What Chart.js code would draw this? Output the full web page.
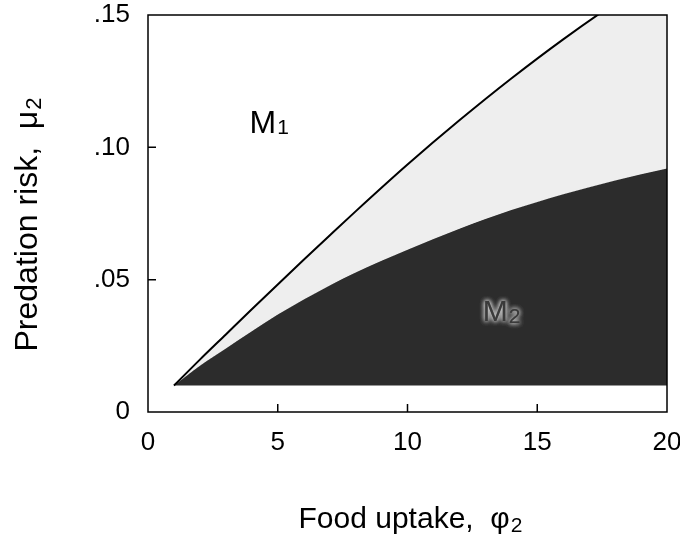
<!DOCTYPE html>
<html>
<head>
<meta charset="utf-8">
<script src="https://cdn.jsdelivr.net/npm/chart.js@4.4.1/dist/chart.umd.min.js"></script>
<style>
  html, body { margin: 0; padding: 0; background: #fff; }
  #wrap { width: 680px; height: 539px; }
</style>
</head>
<body>
<div id="wrap"><canvas id="regime-chart"></canvas></div>
<script>
const foodUptake = [1, 2, 3, 4, 5, 6, 7, 8, 10, 12, 14, 16, 18, 20];
// upper boundary M1 / mixed (black line), runs off the top past ~17.5
const upperBoundary = [0.010, 0.0198, 0.0293, 0.0388, 0.0482, 0.0575, 0.0667, 0.0758, 0.0935, 0.1102, 0.126, 0.1408, 0.1545, 0.167];
// lower boundary of the dark M2 region
const lowerBoundary = [0.010, 0.0175, 0.024, 0.0305, 0.0368, 0.0425, 0.0478, 0.0527, 0.0613, 0.0692, 0.0763, 0.0823, 0.0875, 0.092];
const floorRisk = 0.01;

const xTicks = [0, 5, 10, 15, 20];
const yTicks = [0, 0.05, 0.10, 0.15];
const yTickLabels = ['0', '.05', '.10', '.15'];

const FONT = '"Liberation Sans", Arial, Helvetica, sans-serif';

function toPoints(ys) {
  return foodUptake.map((x, i) => ({ x: x, y: ys[i] }));
}

// text with a subscript, drawn at baseline (x, y), centred
function subText(ctx, main, sub, x, y, size, subSize, drop) {
  ctx.font = size + 'px ' + FONT;
  const w1 = ctx.measureText(main).width;
  ctx.font = subSize + 'px ' + FONT;
  const w2 = ctx.measureText(sub).width;
  const start = x - (w1 + w2) / 2;
  ctx.textAlign = 'left';
  ctx.textBaseline = 'alphabetic';
  ctx.font = size + 'px ' + FONT;
  ctx.fillText(main, start, y);
  ctx.font = subSize + 'px ' + FONT;
  ctx.fillText(sub, start + w1 + 1, y + drop);
}

// frame round the plot and inward tick marks
const framePlugin = {
  id: 'frame',
  afterDatasetsDraw(chart) {
    const { ctx, chartArea, scales } = chart;
    const { left, top, right, bottom } = chartArea;
    ctx.save();
    ctx.strokeStyle = '#000';
    ctx.lineWidth = 1.5;
    ctx.strokeRect(left, top, right - left, bottom - top);
    ctx.beginPath();
    xTicks.slice(1, -1).forEach(v => {
      const px = scales.x.getPixelForValue(v);
      ctx.moveTo(px, bottom);
      ctx.lineTo(px, bottom - 8);
    });
    yTicks.slice(1, -1).forEach(v => {
      const py = scales.y.getPixelForValue(v);
      ctx.moveTo(left, py);
      ctx.lineTo(left + 8, py);
    });
    ctx.stroke();
    ctx.restore();
  }
};

// region labels and axis titles (need subscripts)
const labelPlugin = {
  id: 'labels',
  afterDraw(chart) {
    const { ctx, scales } = chart;
    ctx.save();
    ctx.fillStyle = '#000';
    subText(ctx, 'M', '1', scales.x.getPixelForValue(4.65), scales.y.getPixelForValue(0.1055), 32, 21, 1);

    // M2 sits in the dark region: soft light glow round dark letters
    const mx = scales.x.getPixelForValue(12.9), my = scales.y.getPixelForValue(0.0345);
    ctx.textAlign = 'left';
    ctx.textBaseline = 'alphabetic';
    ctx.font = '30px ' + FONT;
    const w1 = ctx.measureText('M').width;
    ctx.shadowColor = '#c8c8c8';
    ctx.shadowBlur = 5;
    ctx.fillStyle = '#3a3a3a';
    for (let k = 0; k < 3; k++) {
      ctx.font = '30px ' + FONT;
      ctx.fillText('M', mx, my);
      ctx.font = '21px ' + FONT;
      ctx.fillText('2', mx + w1 + 1, my + 2);
    }
    ctx.shadowBlur = 0;
    ctx.shadowColor = 'transparent';

    ctx.fillStyle = '#000';
    subText(ctx, 'Food uptake,  \u03c6', '2', 410, 528, 30, 21, 4);

    ctx.translate(37, 225);
    ctx.rotate(-Math.PI / 2);
    subText(ctx, 'Predation risk,  \u03bc', '2', 0, 0, 32, 22, 4);
    ctx.restore();
  }
};

const regimeChart = document.getElementById('regime-chart');
new Chart(regimeChart, {
  type: 'line',
  data: {
    datasets: [
      {
        label: 'M1 boundary',
        data: toPoints(upperBoundary),
        borderColor: '#000',
        borderWidth: 2,
        pointRadius: 0,
        cubicInterpolationMode: 'monotone',
        fill: 1,
        backgroundColor: '#eeeeee'
      },
      {
        label: 'M2 boundary',
        data: toPoints(lowerBoundary),
        borderColor: '#2c2c2c',
        borderWidth: 1,
        pointRadius: 0,
        cubicInterpolationMode: 'monotone',
        fill: { value: floorRisk },
        backgroundColor: '#2c2c2c'
      }
    ]
  },
  options: {
    responsive: true,
    maintainAspectRatio: false,
    animation: false,
    layout: { padding: { top: 15, right: 13, left: 0, bottom: 0 } },
    plugins: {
      legend: { display: false },
      tooltip: { enabled: false }
    },
    scales: {
      x: {
        type: 'linear',
        min: 0,
        max: 20,
        afterBuildTicks: s => { s.ticks = xTicks.map(v => ({ value: v })); },
        afterFit: s => { s.height = 127; s.paddingLeft = 0; s.paddingRight = 0; },
        grid: { display: false, drawTicks: false },
        border: { display: false },
        ticks: {
          color: '#000',
          padding: 15,
          maxRotation: 0,
          font: { family: FONT, size: 26 }
        }
      },
      y: {
        type: 'linear',
        min: 0,
        max: 0.15,
        afterBuildTicks: s => { s.ticks = yTicks.map(v => ({ value: v })); },
        afterFit: s => { s.width = 148; s.paddingTop = 0; s.paddingBottom = 0; },
        grid: { display: false, drawTicks: false },
        border: { display: false },
        ticks: {
          color: '#000',
          padding: 18,
          font: { family: FONT, size: 26 },
          callback: (v, i) => yTickLabels[i]
        }
      }
    }
  },
  plugins: [framePlugin, labelPlugin]
});
</script>
</body>
</html>
